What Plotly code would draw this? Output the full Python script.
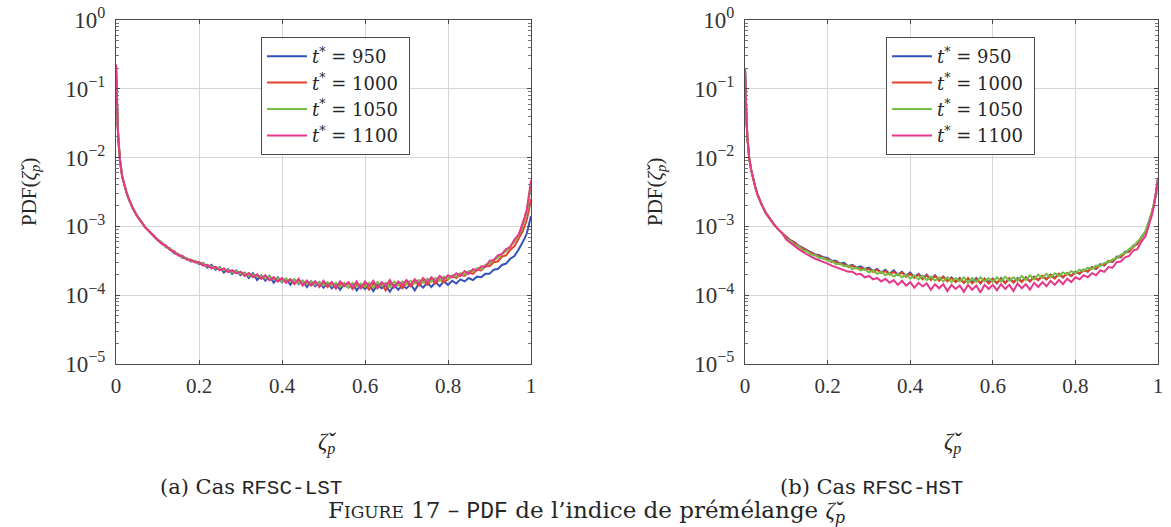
import plotly.graph_objects as go

# ---------------- data (log10 of PDF) ----------------
x_head = [0, 0.001, 0.002, 0.004, 0.006, 0.008, 0.01, 0.015, 0.02, 0.025, 0.03,
          0.04, 0.05, 0.06, 0.07, 0.08, 0.09]
x_mid = [0.10, 0.11, 0.12, 0.13, 0.14, 0.15, 0.16, 0.17, 0.18, 0.19,
         0.20, 0.21, 0.22, 0.23, 0.24, 0.25, 0.26, 0.27, 0.28, 0.29,
         0.30, 0.31, 0.32, 0.33, 0.34, 0.35, 0.36, 0.37, 0.38, 0.39,
         0.40, 0.41, 0.42, 0.43, 0.44, 0.45, 0.46, 0.47, 0.48, 0.49,
         0.50, 0.51, 0.52, 0.53, 0.54, 0.55, 0.56, 0.57, 0.58, 0.59,
         0.60, 0.61, 0.62, 0.63, 0.64, 0.65, 0.66, 0.67, 0.68, 0.69,
         0.70, 0.71, 0.72, 0.73, 0.74, 0.75, 0.76, 0.77, 0.78, 0.79,
         0.80, 0.81, 0.82, 0.83, 0.84, 0.85, 0.86, 0.87, 0.88, 0.89,
         0.90, 0.91, 0.92, 0.93, 0.94, 0.95, 0.96, 0.97]
x_tail = [0.975, 0.98, 0.985, 0.99, 0.995, 1.0]

# ---- case (a) RFSC-LST ----
lst_head = [-0.65, -0.95, -1.16, -1.52, -1.76, -1.93, -2.06, -2.28, -2.40, -2.50, -2.59,
            -2.73, -2.84, -2.93, -3.01, -3.07, -3.13]

lst_950_mid = [-3.20, -3.23, -3.30, -3.32, -3.39, -3.40, -3.46, -3.46, -3.51, -3.50,
               -3.55, -3.53, -3.60, -3.56, -3.63, -3.59, -3.67, -3.62, -3.69, -3.64,
               -3.71, -3.67, -3.75, -3.68, -3.78, -3.71, -3.79, -3.72, -3.82, -3.74,
               -3.81, -3.76, -3.85, -3.77, -3.84, -3.79, -3.88, -3.80, -3.87, -3.81,
               -3.89, -3.82, -3.90, -3.83, -3.92, -3.84, -3.89, -3.83, -3.93, -3.85,
               -3.91, -3.84, -3.94, -3.85, -3.90, -3.86, -3.95, -3.85, -3.92, -3.86,
               -3.90, -3.84, -3.93, -3.83, -3.89, -3.82, -3.88, -3.81, -3.87, -3.80,
               -3.85, -3.79, -3.83, -3.77, -3.80, -3.75, -3.78, -3.73, -3.74, -3.69,
               -3.69, -3.63, -3.62, -3.56, -3.54, -3.47, -3.43, -3.34]
lst_950_tail = [-3.29, -3.24, -3.17, -3.10, -2.98, -2.85]

lst_1000_mid = [-3.18, -3.25, -3.28, -3.34, -3.36, -3.42, -3.43, -3.48, -3.48, -3.52,
                -3.52, -3.56, -3.56, -3.60, -3.59, -3.63, -3.62, -3.66, -3.64, -3.68,
                -3.66, -3.71, -3.68, -3.74, -3.70, -3.76, -3.72, -3.78, -3.74, -3.80,
                -3.76, -3.81, -3.77, -3.83, -3.78, -3.85, -3.79, -3.86, -3.80, -3.87,
                -3.81, -3.88, -3.82, -3.90, -3.83, -3.87, -3.82, -3.91, -3.83, -3.88,
                -3.84, -3.92, -3.83, -3.89, -3.84, -3.93, -3.83, -3.88, -3.82, -3.90,
                -3.82, -3.87, -3.80, -3.86, -3.79, -3.85, -3.78, -3.83, -3.77, -3.81,
                -3.77, -3.72, -3.75, -3.70, -3.72, -3.67, -3.69, -3.63, -3.64, -3.58,
                -3.58, -3.52, -3.51, -3.44, -3.42, -3.34, -3.29, -3.19]
lst_1000_tail = [-3.13, -3.07, -2.99, -2.90, -2.76, -2.60]

lst_1050_mid = [-3.19, -3.23, -3.30, -3.32, -3.38, -3.40, -3.45, -3.46, -3.50, -3.50,
                -3.54, -3.54, -3.58, -3.58, -3.61, -3.60, -3.64, -3.63, -3.67, -3.65,
                -3.69, -3.68, -3.72, -3.70, -3.73, -3.72, -3.76, -3.73, -3.77, -3.75,
                -3.80, -3.76, -3.81, -3.77, -3.83, -3.79, -3.84, -3.80, -3.85, -3.81,
                -3.86, -3.81, -3.87, -3.82, -3.88, -3.82, -3.89, -3.82, -3.87, -3.83,
                -3.88, -3.82, -3.89, -3.81, -3.87, -3.82, -3.88, -3.80, -3.86, -3.80,
                -3.84, -3.79, -3.83, -3.78, -3.82, -3.76, -3.80, -3.75, -3.79, -3.73,
                -3.76, -3.71, -3.73, -3.68, -3.70, -3.65, -3.66, -3.61, -3.62, -3.56,
                -3.54, -3.49, -3.46, -3.40, -3.36, -3.29, -3.22, -3.12]
lst_1050_tail = [-3.07, -2.99, -2.89, -2.78, -2.61, -2.40]

lst_1100_mid = [-3.18, -3.25, -3.28, -3.34, -3.37, -3.42, -3.43, -3.48, -3.49, -3.52,
                -3.52, -3.57, -3.56, -3.61, -3.59, -3.64, -3.61, -3.66, -3.64, -3.68,
                -3.66, -3.72, -3.68, -3.73, -3.70, -3.76, -3.71, -3.78, -3.74, -3.80,
                -3.75, -3.82, -3.77, -3.84, -3.76, -3.86, -3.79, -3.85, -3.80, -3.88,
                -3.79, -3.87, -3.81, -3.90, -3.80, -3.86, -3.81, -3.89, -3.80, -3.91,
                -3.80, -3.87, -3.79, -3.90, -3.81, -3.86, -3.78, -3.89, -3.80, -3.85,
                -3.78, -3.85, -3.77, -3.83, -3.75, -3.81, -3.74, -3.80, -3.72, -3.77,
                -3.71, -3.74, -3.68, -3.72, -3.65, -3.69, -3.62, -3.64, -3.58, -3.59,
                -3.50, -3.49, -3.42, -3.40, -3.33, -3.30, -3.19, -3.12]
lst_1100_tail = [-3.04, -2.96, -2.86, -2.75, -2.57, -2.33]

# ---- case (b) RFSC-HST ----
hst_head = [-0.70, -0.98, -1.18, -1.50, -1.72, -1.89, -2.00, -2.18, -2.32, -2.43, -2.53,
            -2.68, -2.80, -2.89, -2.97, -3.04, -3.10]

hst_950_mid = [-3.15, -3.20, -3.23, -3.28, -3.31, -3.35, -3.37, -3.41, -3.42, -3.45,
               -3.46, -3.50, -3.50, -3.54, -3.53, -3.58, -3.56, -3.60, -3.58, -3.62,
               -3.60, -3.65, -3.62, -3.67, -3.63, -3.69, -3.64, -3.70, -3.66, -3.72,
               -3.67, -3.74, -3.69, -3.75, -3.70, -3.77, -3.71, -3.78, -3.73, -3.79,
               -3.74, -3.80, -3.75, -3.82, -3.76, -3.81, -3.75, -3.83, -3.76, -3.81,
               -3.76, -3.83, -3.75, -3.82, -3.76, -3.81, -3.75, -3.80, -3.74, -3.80,
               -3.73, -3.78, -3.72, -3.77, -3.70, -3.75, -3.69, -3.74, -3.68, -3.72,
               -3.66, -3.69, -3.63, -3.66, -3.59, -3.62, -3.55, -3.57, -3.50, -3.52,
               -3.44, -3.45, -3.37, -3.37, -3.28, -3.26, -3.15, -3.08]
hst_950_tail = [-2.99, -2.91, -2.81, -2.69, -2.53, -2.31]

hst_1000_mid = [-3.16, -3.21, -3.24, -3.29, -3.32, -3.36, -3.38, -3.42, -3.43, -3.47,
                -3.47, -3.52, -3.51, -3.55, -3.55, -3.59, -3.57, -3.61, -3.60, -3.63,
                -3.62, -3.66, -3.63, -3.68, -3.65, -3.70, -3.66, -3.71, -3.67, -3.73,
                -3.69, -3.75, -3.70, -3.77, -3.71, -3.78, -3.72, -3.79, -3.73, -3.80,
                -3.75, -3.81, -3.76, -3.82, -3.75, -3.83, -3.77, -3.82, -3.76, -3.83,
                -3.77, -3.82, -3.76, -3.83, -3.75, -3.82, -3.76, -3.81, -3.74, -3.80,
                -3.74, -3.78, -3.72, -3.77, -3.71, -3.76, -3.69, -3.74, -3.68, -3.72,
                -3.67, -3.68, -3.64, -3.65, -3.60, -3.61, -3.56, -3.56, -3.51, -3.51,
                -3.46, -3.44, -3.39, -3.36, -3.30, -3.25, -3.17, -3.08]
hst_1000_tail = [-2.99, -2.91, -2.80, -2.68, -2.52, -2.30]

hst_1050_mid = [-3.18, -3.21, -3.27, -3.29, -3.35, -3.36, -3.41, -3.42, -3.46, -3.46,
                -3.50, -3.50, -3.55, -3.54, -3.58, -3.57, -3.62, -3.60, -3.64, -3.62,
                -3.67, -3.64, -3.69, -3.66, -3.71, -3.68, -3.73, -3.69, -3.74, -3.70,
                -3.76, -3.71, -3.77, -3.72, -3.78, -3.73, -3.79, -3.74, -3.80, -3.74,
                -3.81, -3.75, -3.80, -3.74, -3.82, -3.75, -3.81, -3.74, -3.80, -3.75,
                -3.81, -3.74, -3.80, -3.73, -3.79, -3.74, -3.79, -3.72, -3.78, -3.71,
                -3.77, -3.70, -3.75, -3.69, -3.74, -3.68, -3.72, -3.67, -3.70, -3.65,
                -3.68, -3.63, -3.65, -3.60, -3.62, -3.57, -3.58, -3.53, -3.52, -3.48,
                -3.46, -3.41, -3.39, -3.33, -3.29, -3.23, -3.16, -3.06]
hst_1050_tail = [-2.97, -2.89, -2.79, -2.67, -2.51, -2.29]

hst_1100_mid = [-3.19, -3.24, -3.29, -3.33, -3.37, -3.41, -3.44, -3.47, -3.49, -3.52,
                -3.54, -3.57, -3.59, -3.62, -3.63, -3.66, -3.66, -3.70, -3.69, -3.74,
                -3.72, -3.77, -3.75, -3.80, -3.76, -3.82, -3.78, -3.85, -3.79, -3.86,
                -3.81, -3.89, -3.82, -3.87, -3.83, -3.92, -3.84, -3.90, -3.84, -3.94,
                -3.85, -3.91, -3.86, -3.95, -3.85, -3.92, -3.86, -3.96, -3.85, -3.91,
                -3.85, -3.93, -3.84, -3.91, -3.85, -3.94, -3.83, -3.90, -3.84, -3.92,
                -3.82, -3.88, -3.81, -3.87, -3.79, -3.85, -3.78, -3.84, -3.76, -3.81,
                -3.74, -3.77, -3.71, -3.74, -3.68, -3.71, -3.64, -3.66, -3.59, -3.60,
                -3.52, -3.51, -3.45, -3.43, -3.35, -3.33, -3.22, -3.14]
hst_1100_tail = [-3.04, -2.95, -2.84, -2.71, -2.54, -2.31]

series_labels = ["950", "1000", "1050", "1100"]
colors = ["#3550b8", "#e4422a", "#74c043", "#e6378c"]

y_ticks = [1, 0.1, 0.01, 0.001, 0.0001, 0.00001]
y_ticktext = ["10<sup>0</sup>", "10<sup>−1</sup>", "10<sup>−2</sup>", "10<sup>−3</sup>",
              "10<sup>−4</sup>", "10<sup>−5</sup>"]
x_ticks = [0, 0.2, 0.4, 0.6, 0.8, 1]
x_ticktext = ["0", "0.2", "0.4", "0.6", "0.8", "1"]

# ---------------- figure ----------------
W, H = 1171, 527
SERIF = "Liberation Serif, Times New Roman, serif"
WIDE = "DejaVu Serif"
MONO = "Liberation Mono"
TXT = "#262626"

x_all = x_head + x_mid + x_tail
cases = [
    (lst_head, [(lst_950_mid, lst_950_tail), (lst_1000_mid, lst_1000_tail),
                (lst_1050_mid, lst_1050_tail), (lst_1100_mid, lst_1100_tail)]),
    (hst_head, [(hst_950_mid, hst_950_tail), (hst_1000_mid, hst_1000_tail),
                (hst_1050_mid, hst_1050_tail), (hst_1100_mid, hst_1100_tail)]),
]

NB = "\u00a0"
fig = go.Figure()
for ci, (head, sers) in enumerate(cases):
    xa = "x" if ci == 0 else "x2"
    ya = "y" if ci == 0 else "y2"
    lg = "legend" if ci == 0 else "legend2"
    for si, (mid, tail) in enumerate(sers):
        logs = head + mid + tail
        fig.add_trace(go.Scatter(
            x=x_all, y=[10 ** v for v in logs], mode="lines",
            line=dict(color=colors[si], width=2.0),
            name="<i>t</i><sup>*</sup>" + NB + "=" + NB + series_labels[si] + NB,
            xaxis=xa, yaxis=ya, legend=lg, hoverinfo="skip"))

def px_x(p):
    return p / W

def px_y(p):
    return 1 - p / H

minor_vals = [m * 10 ** k for k in range(-5, 0) for m in range(2, 10)]

axis_common = dict(showline=True, linecolor="#4a4a4a", linewidth=1.2, mirror="allticks",
                   showgrid=True, gridcolor="#d6d6d6", gridwidth=1, zeroline=False,
                   ticks="inside", tickcolor="#4a4a4a", ticklen=4, automargin=False)

xdom1 = [px_x(116), px_x(531)]
xdom2 = [px_x(745), px_x(1158)]
ydom = [px_y(364), px_y(20)]

for i, xd in enumerate([xdom1, xdom2]):
    sfx = "" if i == 0 else "2"
    fig.update_layout(**{
        "xaxis" + sfx: dict(domain=xd, range=[0, 1], tickvals=x_ticks, ticktext=x_ticktext,
                            anchor="y" + sfx, ticklabelstandoff=3,
                            tickfont=dict(family=SERIF, size=21, color="#333333"),
                            **axis_common),
        "yaxis" + sfx: dict(domain=ydom, type="log", range=[-5, 0], tickvals=y_ticks,
                            ticktext=y_ticktext, anchor="x" + sfx, ticklabelstandoff=5,
                            tickfont=dict(family=SERIF, size=23, color="#333333"),
                            minor=dict(tickvals=minor_vals, ticks="inside", ticklen=3,
                                       tickcolor="#777777", showgrid=False),
                            **axis_common),
    })

leg_common = dict(xanchor="left", yanchor="top", bgcolor="white", bordercolor="#4a4a4a",
                  borderwidth=1, font=dict(family=WIDE, size=18, color=TXT),
                  tracegroupgap=0, itemwidth=40)
fig.update_layout(
    legend=dict(x=px_x(261), y=px_y(37), **leg_common),
    legend2=dict(x=px_x(886), y=px_y(37), **leg_common),
)

ZETA = "<span style='font-family:Liberation Serif'><i>ζ̌</i></span>"
ann = []
ytitle = "PDF(" + ZETA + "<sub><i>p</i></sub>)"
xtitle = ZETA + "<sub><i>p</i></sub>"
for cx_ytitle, cx_xtitle in [(30, 327), (656, 953)]:
    ann.append(dict(x=px_x(cx_ytitle), y=px_y(192), text=ytitle, textangle=-90,
                    xanchor="center", yanchor="middle",
                    showarrow=False, xref="paper", yref="paper",
                    font=dict(family=SERIF, size=21, color=TXT)))
    ann.append(dict(x=px_x(cx_xtitle), y=px_y(443), text=xtitle, showarrow=False,
                    xanchor="center", yanchor="middle",
                    xref="paper", yref="paper",
                    font=dict(family=SERIF, size=23, color=TXT)))

ann.append(dict(x=px_x(251), y=px_y(487), showarrow=False, xref="paper", yref="paper",
                xanchor="center", yanchor="middle",
                text="(a) Cas <span style='font-family:" + MONO + "'>RFSC-LST</span>",
                font=dict(family=WIDE, size=21, color=TXT)))
ann.append(dict(x=px_x(871), y=px_y(487), showarrow=False, xref="paper", yref="paper",
                xanchor="center", yanchor="middle",
                text="(b) Cas <span style='font-family:" + MONO + "'>RFSC-HST</span>",
                font=dict(family=WIDE, size=21, color=TXT)))
ann.append(dict(x=px_x(586), y=px_y(512), showarrow=False, xref="paper", yref="paper",
                xanchor="center", yanchor="middle",
                text="F<span style='font-size:17px'>IGURE</span> 17 – "
                     "<span style='font-family:" + MONO + "'>PDF</span> de l’indice de prémélange "
                     + ZETA + "<sub><i>p</i></sub>",
                font=dict(family=WIDE, size=23, color=TXT)))

fig.update_layout(annotations=ann, width=W, height=H, autosize=False,
                  margin=dict(l=0, r=0, t=0, b=0, pad=0, autoexpand=False),
                  font=dict(family=SERIF, color=TXT),
                  paper_bgcolor="white", plot_bgcolor="white")

fig.write_html("out.html", config={"displayModeBar": False},
               post_script="document.body.style.margin='0px';")
